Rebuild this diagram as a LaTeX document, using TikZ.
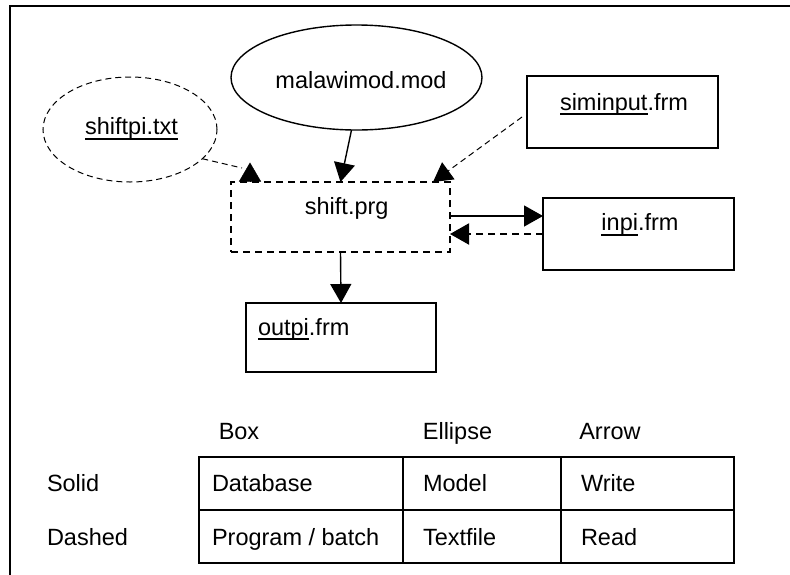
\documentclass[tikz,border=0pt]{standalone}
\usepackage{fontspec}
\setmainfont{Liberation Sans}
\usetikzlibrary{arrows.meta,shapes.geometric,calc}
\newcommand\myul[1]{\setbox0\hbox{#1}\rlap{\rule[-5.2pt]{\wd0}{1.8pt}}\box0}
\begin{document}
\begin{tikzpicture}[x=1pt,y=-1pt,
  txt/.style={font=\fontsize{23.5}{27}\selectfont, inner sep=0pt, outer sep=0pt},
  dbbox/.style={draw, line width=1.4pt, rectangle, inner sep=0pt, outer sep=0pt},
  prgbox/.style={draw, line width=2pt, rectangle, inner sep=0pt, outer sep=0pt, dash pattern=on 7pt off 5pt},
  modell/.style={draw, line width=1.4pt, ellipse, inner sep=0pt, outer sep=0pt},
  txtell/.style={draw, line width=1pt, ellipse, inner sep=0pt, outer sep=0pt, dash pattern=on 6pt off 4pt},
  wr/.style={line width=1.4pt, -{Triangle[length=19pt,width=21pt]}},
  rd/.style={line width=1pt, dash pattern=on 6pt off 4pt, -{Triangle[length=19pt,width=21pt]}},
  rdthick/.style={line width=2pt, dash pattern=on 7pt off 5pt, -{Triangle[length=19pt,width=21pt]}},
  rdline/.style={line width=1pt, dash pattern=on 6pt off 4pt},
  grid/.style={line width=1.4pt},
  gridthick/.style={line width=2.4pt}
]
\useasboundingbox (0,0) rectangle (790,574);
% frame
\draw[line width=2.2pt] (10,576) -- (10,6) -- (792,6);

% nodes
\node[modell, minimum width=251pt, minimum height=105pt] (mal) at (356.5,77.5) {};
\node[txt, anchor=base] (malt) at (361,88.3) {malawimod.mod};

\node[txtell, minimum width=174pt, minimum height=105pt] (spi) at (130,129.5) {};
\node[txt, anchor=base] (spit) at (131.5,134.3) {\myul{shiftpi.txt}};

\node[prgbox, minimum width=219pt, minimum height=70pt] (prg) at (340.5,217) {};
\node[txt, anchor=base] (prgt) at (346.7,214.3) {shift.prg};

\node[dbbox, minimum width=191pt, minimum height=72pt] (sim) at (622.5,112) {};
\node[txt, anchor=base] (simt) at (624,110) {\myul{siminput}.frm};

\node[dbbox, minimum width=191pt, minimum height=72pt] (inpi) at (638.5,234) {};
\node[txt, anchor=base] (inpit) at (640,230.7) {\myul{inpi}.frm};

\node[dbbox, minimum width=190pt, minimum height=69pt] (outpi) at (341,337.5) {};
\node[txt, anchor=base west] (outpit) at (258,335) {\myul{outpi}.frm};

% connectors
\draw[wr] ([xshift=-5pt]mal.south) -- (prg.north);
\draw[wr] (prg.south) -- (outpi.north);
\draw[wr] (prg.east |- 0,216) -- (inpi.west |- 0,216);
\draw[rdthick] (inpi.west |- 0,234) -- (prg.east |- 0,234);
\draw[rd] ($(sim.west)+(-5,5)$) -- ($(prg.north east)+(-17,0)$);
\coordinate (spiend) at ($(prg.north west)+(11,-14)$);
\draw[rdline] (spi.-22) -- (spiend);
\draw[-{Triangle[length=19pt,width=22pt]}] ($(prg.north west)+(19,0)$) -- ++(0,-19.5);

% legend table
\node[txt, anchor=base] (hbox) at (239,439) {Box};
\node[txt, anchor=base] (hell) at (457.5,439) {Ellipse};
\node[txt, anchor=base] (harr) at (610,439) {Arrow};
\node[txt, anchor=base west] (rsol) at (47,491.5) {Solid};
\node[txt, anchor=base west] (rdas) at (47,545) {Dashed};

\draw[grid] (199,457) rectangle (734,563);
\draw[gridthick] (199,510) -- (734,510);
\draw[gridthick] (403,457) -- (403,563);
\draw[gridthick] (561,457) -- (561,563);

\node[txt, anchor=base west] (c11) at (212,491.5) {Database};
\node[txt, anchor=base west] (c21) at (212,545) {Program / batch};
\node[txt, anchor=base west] (c12) at (423,491.5) {Model};
\node[txt, anchor=base west] (c22) at (423,545) {Textfile};
\node[txt, anchor=base west] (c13) at (581,491.5) {Write};
\node[txt, anchor=base west] (c23) at (581,545) {Read};
\end{tikzpicture}
\end{document}
